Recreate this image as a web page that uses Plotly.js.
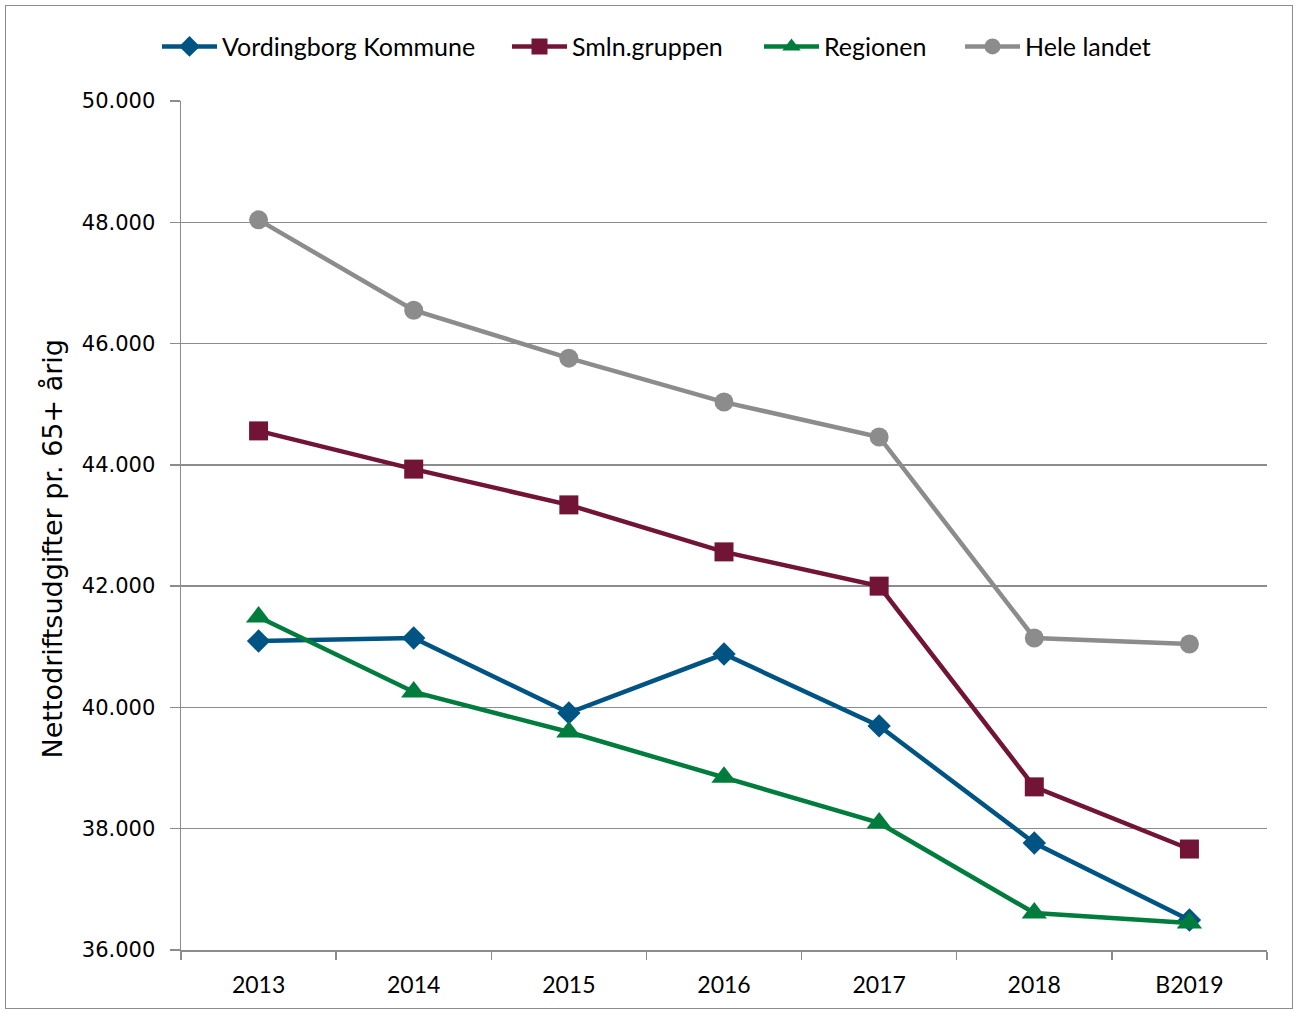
<!DOCTYPE html>
<html>
<head>
<meta charset="utf-8">
<script src="https://cdn.plot.ly/plotly-3.0.1.min.js"></script>
<style>
html,body{margin:0;padding:0;background:#fff;}
#frame{position:absolute;left:5px;top:5px;width:1286px;height:1002px;border:1px solid #8c8c8c;}
#chart{position:absolute;left:0;top:0;width:1297px;height:1011px;}
</style>
</head>
<body>
<div id="frame"></div>
<div id="chart"></div>
<script>
const categories = ["2013","2014","2015","2016","2017","2018","B2019"];
const vordingborg = [41095, 41145, 39910, 40880, 39695, 37765, 36495];
const smlnGruppen = [44560, 43930, 43340, 42565, 42000, 38690, 37665];
const regionen    = [41490, 40255, 39595, 38850, 38095, 36610, 36445];
const heleLandet  = [48040, 46550, 45760, 45035, 44460, 41145, 41045];
const seriesNames = ["Vordingborg Kommune","Smln.gruppen","Regionen","Hele landet"];
const yTitle = "Nettodriftsudgifter pr. 65+ årig";

const styles = [
  {color:"#005483", symbol:"diamond", size:18},
  {color:"#721436", symbol:"square", size:19},
  {color:"#007D3C", symbol:"triangle-up", size:22},
  {color:"#8C8C8C", symbol:"circle", size:19}
];
const values = [vordingborg, smlnGruppen, regionen, heleLandet];
const legendIds = ["legend","legend2","legend3","legend4"];
const legendLeftPx = [165, 515, 767, 968];

const traces = values.map((v,i)=>({
  type:"scatter", mode:"lines+markers",
  x: categories, y: v, name: seriesNames[i], legend: legendIds[i],
  line:{color:styles[i].color, width:4.5},
  marker:{color:styles[i].color, symbol:styles[i].symbol, size:styles[i].size, line:{width:0}}
}));

const layout = {
  width:1297, height:1011,
  margin:{l:181, r:30, t:101, b:61},
  paper_bgcolor:"rgba(0,0,0,0)", plot_bgcolor:"#fff",
  separators:",.",
  showlegend:true,
  xaxis:{type:"category", range:[-0.5,6.5], tickson:"boundaries", tickangle:0,
    ticks:"outside", ticklen:8, tickcolor:"#8c8c8c", tickwidth:1.5,
    showline:true, linecolor:"#8c8c8c", linewidth:1.5, showgrid:false, ticklabelstandoff:14,
    tickfont:{family:"Lato, sans-serif", size:23, color:"#000"}, fixedrange:true},
  yaxis:{range:[36000,50000], dtick:2000, tick0:36000, tickformat:",.0f",
    ticks:"outside", ticklen:10, tickcolor:"#8c8c8c", tickwidth:1.5,
    showline:true, linecolor:"#8c8c8c", linewidth:1.5, ticklabelstandoff:10,
    showgrid:true, gridcolor:"#8c8c8c", gridwidth:1.5, zeroline:false,
    tickfont:{family:"DejaVu Sans, sans-serif", size:21, color:"#000"}},
  annotations:[{text:yTitle, textangle:-90, xref:"paper", yref:"paper",
    x:(52-181)/1086, y:(950-548.5)/849, xanchor:"center", yanchor:"middle", showarrow:false,
    font:{family:"DejaVu Sans, sans-serif", size:27, color:"#000"}}]
};
legendIds.forEach((id,i)=>{
  layout[id] = {orientation:"h", x:(legendLeftPx[i]-8-181)/1086, xanchor:"left", y:1.064, yanchor:"middle",
    font:{family:"Lato, sans-serif", size:25, color:"#000"},
    itemwidth:55, bgcolor:"rgba(0,0,0,0)"};
});

Plotly.newPlot("chart", traces, layout, {displayModeBar:false, staticPlot:true});
</script>
</body>
</html>
